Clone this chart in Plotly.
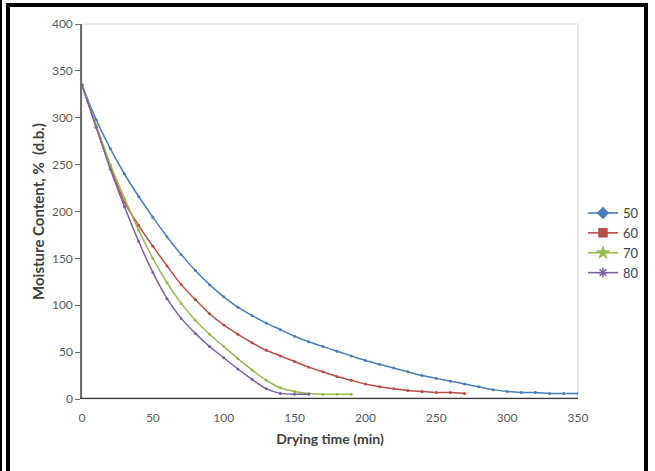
import plotly.graph_objects as go

# ---- data ----
t50 = list(range(0, 351, 10))
mc50 = [335, 298, 267, 240, 216, 194, 173, 154, 137, 122, 109, 98, 89, 81, 74, 67,
        61, 56, 51, 46, 41, 37, 33, 29, 25, 22, 19, 16, 13, 10, 8, 7, 7, 6, 6, 6]

t60 = list(range(0, 271, 10))
mc60 = [335, 290, 248, 210, 185, 163, 142, 122, 106, 91, 79, 69, 60, 52, 46, 40,
        34, 29, 24, 20, 16, 13, 11, 9, 8, 7, 7, 6]

t70 = list(range(0, 191, 10))
mc70 = [335, 292, 250, 214, 180, 150, 124, 102, 84, 69, 56, 43, 31, 20, 12, 8, 6, 5, 5, 5]

t80 = list(range(0, 161, 10))
mc80 = [335, 290, 245, 205, 168, 135, 107, 86, 70, 56, 44, 32, 21, 11, 6, 5, 5]

names = ["50", "60", "70", "80"]
xs = [t50, t60, t70, t80]
ys = [mc50, mc60, mc70, mc80]
colors = ["#4A7EBB", "#BE4B48", "#98B954", "#7D60A0"]
symbols = ["diamond", "square", "star", "asterisk-open"]

x_ticks = [0, 50, 100, 150, 200, 250, 300, 350]
y_ticks = [0, 50, 100, 150, 200, 250, 300, 350, 400]

W, H = 655, 471
L, R, T, B = 82, 578, 24, 399  # plot area in pixels


def px(xp):
    return (xp - L) / (R - L)


def py(yp):
    return (B - yp) / (B - T)


fig = go.Figure()
for x, y, n, c, s in zip(xs, ys, names, colors, symbols):
    fig.add_trace(go.Scatter(
        x=x, y=y, mode="lines+markers", name=n, showlegend=False,
        line=dict(color=c, width=1.5, shape="spline", smoothing=0.8),
        marker=dict(color=c, size=3, symbol="circle"),
    ))
# legend entries
for n, c, s in zip(names, colors, symbols):
    fig.add_trace(go.Scatter(
        x=[None], y=[None], mode="lines+markers", name=n,
        line=dict(color=c, width=1.6),
        marker=dict(color=c, size=8, symbol=s, line=dict(color=c, width=1.5)),
    ))

fig.update_layout(
    width=W, height=H,
    margin=dict(l=L, r=W - R, t=T, b=H - B, autoexpand=False),
    paper_bgcolor="white", plot_bgcolor="white",
    font=dict(family="Lato, 'Open Sans', sans-serif", color="#404040", size=11),
    legend=dict(x=px(583), y=py(198), xanchor="left", yanchor="top",
                font=dict(size=13, color="#404040"), itemwidth=30,
                tracegroupgap=0, bgcolor="rgba(0,0,0,0)"),
    xaxis=dict(range=[0, 350], tickvals=x_ticks, showgrid=False, zeroline=False,
               showline=False, ticks="", automargin=False, ticklabelstandoff=10,
               tickfont=dict(size=12, color="#5a5a5a"),
               title=dict(text="<b>Drying time (min)</b>", font=dict(size=14, color="#404040"),
                          standoff=10)),
    yaxis=dict(range=[0, 400], tickvals=y_ticks, showgrid=False, zeroline=False,
               showline=True, linecolor="#6e6e6e", linewidth=1.5, automargin=False,
               ticks="outside", ticklen=5, tickcolor="#6e6e6e",
               tickfont=dict(size=12, color="#5a5a5a"),
               title=dict(text="<b>Moisture Content, %  (d.b.)</b>",
                          font=dict(size=15, color="#404040"), standoff=4)),
    shapes=[
        # plot area light border
        dict(type="rect", xref="paper", yref="paper", x0=0, y0=0, x1=1, y1=1,
             line=dict(color="#d9d9d9", width=1), layer="below"),
        # x axis line at y=0
        dict(type="line", xref="paper", yref="y", x0=px(80), x1=1, y0=0, y1=0,
             line=dict(color="#3a3a3a", width=2.5)),
        # outer black frame
        dict(type="rect", xref="paper", yref="paper",
             x0=px(8), x1=px(646), y0=py(476), y1=py(5),
             line=dict(color="black", width=4)),
        dict(type="line", xref="paper", yref="paper",
             x0=px(1), x1=px(1), y0=py(476), y1=py(0),
             line=dict(color="black", width=2)),
    ],
)

fig.write_html(
    "out.html",
    config={"displayModeBar": False},
    post_script="document.body.style.margin='0';document.body.style.overflow='hidden';",
)
